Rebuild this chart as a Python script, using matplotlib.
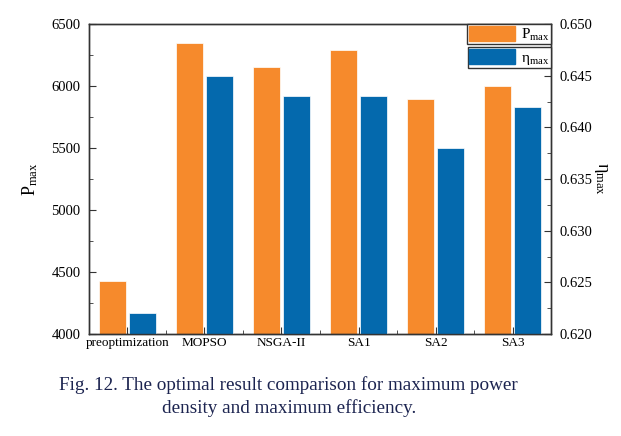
import matplotlib.pyplot as plt
import numpy as np
from matplotlib.patches import Patch

plt.rcParams['font.family'] = ['Liberation Serif', 'DejaVu Serif']
plt.rcParams['mathtext.fontset'] = 'custom'
plt.rcParams['mathtext.rm'] = 'Liberation Serif'
plt.rcParams['mathtext.it'] = 'Liberation Serif:italic'

methods = ['preoptimization', 'MOPSO', 'NSGA-II', 'SA1', 'SA2', 'SA3']
p_max = [4427, 6344, 6155, 6287, 5893, 6002]
eta_max = [0.622, 0.645, 0.643, 0.643, 0.638, 0.642]

orange = '#F68A2C'
blue = '#0469AD'

fig = plt.figure(figsize=(6.21, 4.36), dpi=100)
ax = fig.add_axes([0.1433, 0.2339, 0.744, 0.711])
ax2 = ax.twinx()

x = np.arange(len(methods))
w = 0.35
ax.bar(x - 0.2, p_max, w, color=orange, edgecolor='white', linewidth=0.5, zorder=2)
ax2.bar(x + 0.2, eta_max, w, color=blue, edgecolor='white', linewidth=0.5, zorder=2)

ax.set_xlim(-0.5, 5.5)
ax.set_ylim(4000, 6500)
ax2.set_ylim(0.620, 0.650)
ax.set_yticks(np.arange(4000, 6501, 500))
ax.set_yticks(np.arange(4000, 6501, 250), minor=True)
ax2.set_yticks(np.arange(0.620, 0.6501, 0.005))
ax2.set_yticks(np.arange(0.620, 0.6501, 0.0025), minor=True)
ax2.set_yticklabels(['%.3f' % v for v in np.arange(0.620, 0.6501, 0.005)])
ax.set_xticks(x)
ax.set_xticklabels(methods, fontsize=9.5)
ax.set_xticks(x[:-1] + 0.5, minor=True)

ax.tick_params(axis='both', which='both', direction='in', color='#333333')
ax.tick_params(axis='y', which='major', length=5, labelsize=10.5, pad=6)
ax.tick_params(axis='y', which='minor', length=3)
ax.tick_params(axis='x', which='major', length=5, pad=2)
ax.tick_params(axis='x', which='minor', length=3)
ax2.tick_params(axis='y', which='both', direction='in', color='#333333')
ax2.tick_params(axis='y', which='major', length=5, labelsize=10.5, pad=6)
ax2.tick_params(axis='y', which='minor', length=3)

for a in (ax, ax2):
    for s in a.spines.values():
        s.set_color('#333333')
        s.set_linewidth(1.0)

ax.set_ylabel(r'P$_{\rm max}$', fontsize=13, labelpad=8)
ax2.set_ylabel('η$_{\\rm max}$', fontsize=13, rotation=270, labelpad=12)

leg1 = ax2.legend([Patch(color=orange)], [r'P$_{\rm max}$'], loc='upper right',
                  bbox_to_anchor=(1.0, 1.0), fontsize=11, fancybox=False,
                  edgecolor='#333333', framealpha=1, handlelength=3.0,
                  handleheight=1.2, borderpad=0.1, borderaxespad=0,
                  handletextpad=0.4)
ax2.add_artist(leg1)
ax2.legend([Patch(color=blue)], ['η$_{\\rm max}$'], loc='upper right',
           bbox_to_anchor=(1.0, 0.925), fontsize=11, fancybox=False,
           edgecolor='#333333', framealpha=1, handlelength=3.0,
           handleheight=1.2, borderpad=0.1, borderaxespad=0,
           handletextpad=0.4)

fig.text(0.465, 0.09, 'Fig. 12. The optimal result comparison for maximum power\ndensity and maximum efficiency.',
         ha='center', va='center', fontsize=13.8, color='#1c2450', linespacing=1.4)

fig.savefig('out.png', dpi=100, facecolor='white')
